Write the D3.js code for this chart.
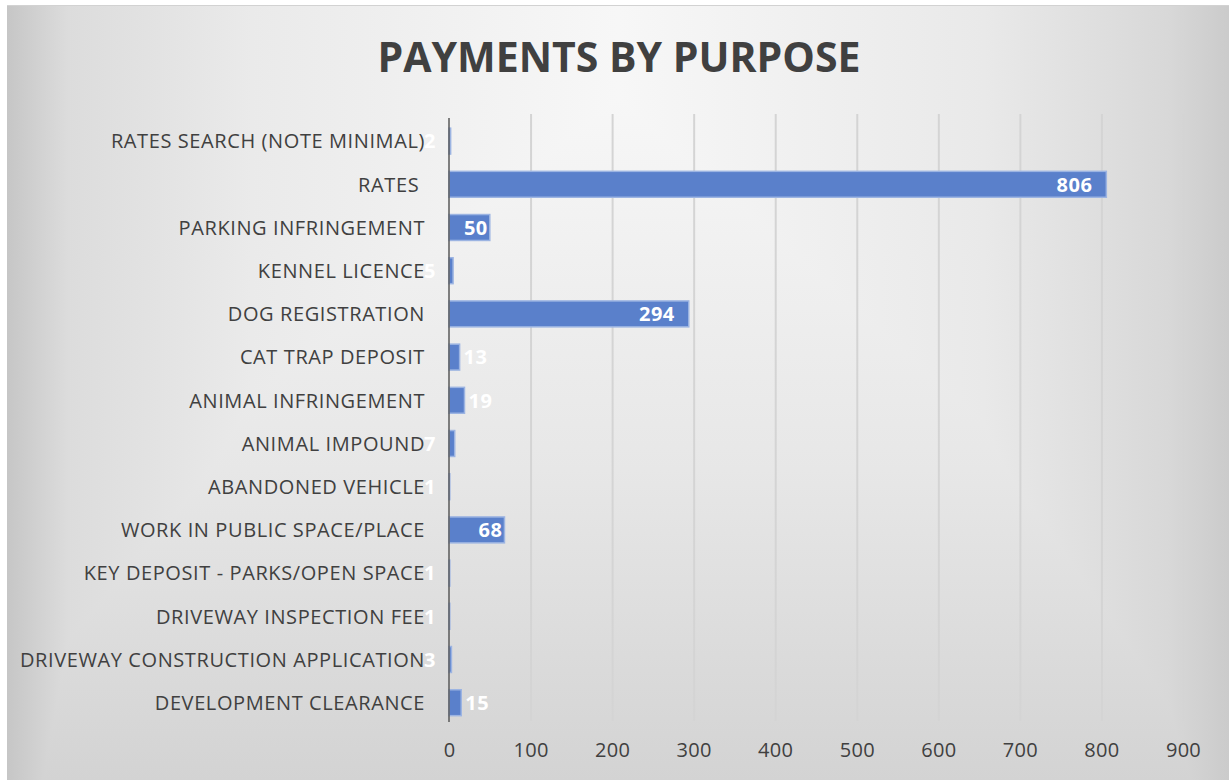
<!DOCTYPE html>
<html>
<head>
<meta charset="utf-8">
<script src="https://cdn.jsdelivr.net/npm/d3@7"></script>
<style>
  html, body { margin: 0; padding: 0; background: #ffffff; }
  svg { display: block; }
  text { font-family: "Open Sans", "Noto Sans", sans-serif; }
</style>
</head>
<body>
<svg id="chart" width="1229" height="780"></svg>
<script>
// Payment counts by purpose, listed top to bottom
const categories = [
  "RATES SEARCH (NOTE MINIMAL)",
  "RATES ",
  "PARKING INFRINGEMENT",
  "KENNEL LICENCE",
  "DOG REGISTRATION",
  "CAT TRAP DEPOSIT",
  "ANIMAL INFRINGEMENT",
  "ANIMAL IMPOUND",
  "ABANDONED VEHICLE",
  "WORK IN PUBLIC SPACE/PLACE",
  "KEY DEPOSIT - PARKS/OPEN SPACE",
  "DRIVEWAY INSPECTION FEE",
  "DRIVEWAY CONSTRUCTION APPLICATION",
  "DEVELOPMENT CLEARANCE"
];
const payments = [2, 806, 50, 5, 294, 13, 19, 7, 1, 68, 1, 1, 3, 15];
const xTicks = [0, 100, 200, 300, 400, 500, 600, 700, 800, 900];
const chartTitle = "PAYMENTS BY PURPOSE";

const W = 1229, H = 780;
const svg = d3.select("#chart");
const defs = svg.append("defs");

// Background: horizontal and vertical grey ramps combined with "darken"
const hg = defs.append("linearGradient").attr("id", "bgH")
  .attr("x1", "0").attr("y1", "0").attr("x2", "1").attr("y2", "0");
[[0, "#c6c6c6"], [0.05, "#dcdcdc"], [0.2, "#eaeaea"], [0.5, "#f7f7f7"],
 [0.8, "#e9e9e9"], [0.95, "#d8d8d8"], [1, "#cbcbcb"]]
  .forEach(([o, c]) => hg.append("stop").attr("offset", o).attr("stop-color", c));
const vg = defs.append("linearGradient").attr("id", "bgV")
  .attr("x1", "0").attr("y1", "0").attr("x2", "0").attr("y2", "1");
[[0, "#fbfbfb"], [0.15, "#f6f6f6"], [0.6, "#e7e7e7"], [1, "#d3d3d3"]]
  .forEach(([o, c]) => vg.append("stop").attr("offset", o).attr("stop-color", c));

const bg = svg.append("g").style("isolation", "isolate");
bg.append("rect").attr("x", 7).attr("y", 5).attr("width", W - 7).attr("height", H - 5)
  .attr("fill", "url(#bgH)");
bg.append("rect").attr("x", 7).attr("y", 5).attr("width", W - 7).attr("height", H - 5)
  .attr("fill", "url(#bgV)").style("mix-blend-mode", "darken");
svg.append("line").attr("x1", 7).attr("x2", W).attr("y1", 5.5).attr("y2", 5.5)
  .attr("stroke", "#d2d2d2").attr("stroke-width", 1);

// Scales
const x = d3.scaleLinear().domain([0, 900]).range([449, 1183]);
const y = d3.scaleBand().domain(categories).range([119.5, 724.3])
  .paddingInner(0.4).paddingOuter(0.2);

const plotTop = 114, plotBottom = 721;

// Gridline colour darkens toward the bottom
const gg = defs.append("linearGradient").attr("id", "gridGrad")
  .attr("gradientUnits", "userSpaceOnUse")
  .attr("x1", 0).attr("y1", plotTop).attr("x2", 0).attr("y2", plotBottom);
gg.append("stop").attr("offset", 0).attr("stop-color", "#d4d4d4");
gg.append("stop").attr("offset", 1).attr("stop-color", "#999999");

// Vertical gridlines + tick labels via a bottom axis
const axis = d3.axisBottom(x).tickValues(xTicks).tickSize(-(plotBottom - plotTop)).tickPadding(22);
const ax = svg.append("g").attr("transform", `translate(0,${plotBottom})`).call(axis);
ax.select(".domain").remove();
ax.selectAll(".tick line").attr("stroke", "url(#gridGrad)").attr("stroke-width", 2)
  .filter(d => d === 0).remove();
ax.selectAll(".tick text")
  .attr("fill", "#404040").attr("font-size", 20)
  .style("letter-spacing", "0.3px")
  .style("font-family", "'Open Sans', sans-serif");

// Bars
svg.append("g").selectAll("rect").data(payments).join("rect")
  .attr("x", x(0))
  .attr("y", (d, i) => y(categories[i]))
  .attr("width", d => x(d) - x(0))
  .attr("height", y.bandwidth())
  .attr("fill", "#5a80cb")
  .attr("stroke", "#9cb4e2")
  .attr("stroke-width", 1.5);

// Category axis line and labels
svg.append("line").attr("x1", x(0)).attr("x2", x(0))
  .attr("y1", plotTop + 4).attr("y2", plotBottom + 1)
  .attr("stroke", "#595959").attr("stroke-width", 1.5);

svg.append("g").selectAll("text").data(categories).join("text")
  .attr("x", x(0) - 24)
  .attr("y", d => y(d) + y.bandwidth() / 2)
  .attr("dy", "0.36em")
  .attr("text-anchor", "end")
  .attr("fill", "#404040")
  .attr("font-size", 20)
  .style("letter-spacing", "0.6px")
  .style("white-space", "pre")
  .text(d => d);

// Value labels: inside the bar end when they fit, otherwise beside it
const labels = svg.append("g").selectAll("text").data(payments).join("text")
  .attr("y", (d, i) => y(categories[i]) + y.bandwidth() / 2)
  .attr("dy", "0.36em")
  .attr("fill", "#ffffff")
  .attr("font-weight", "bold")
  .attr("font-size", 20)
  .style("letter-spacing", "0.5px")
  .text(d => d);
labels.each(function (d) {
  const t = d3.select(this);
  const tw = this.getComputedTextLength();
  const bw = x(d) - x(0);
  if (bw >= tw + 6) {
    t.attr("text-anchor", "end").attr("x", x(d) - (bw > 200 ? 14 : 2));
  } else if (bw >= 8) {
    t.attr("text-anchor", "start").attr("x", x(d) + 4);
  } else {
    t.attr("text-anchor", "end").attr("x", x(0) - 13);
  }
});

// Title
svg.append("text")
  .attr("x", 619).attr("y", 72)
  .attr("text-anchor", "middle")
  .attr("fill", "#404040")
  .attr("font-weight", "bold")
  .attr("font-size", 41)
  .text(chartTitle);
</script>
</body>
</html>
